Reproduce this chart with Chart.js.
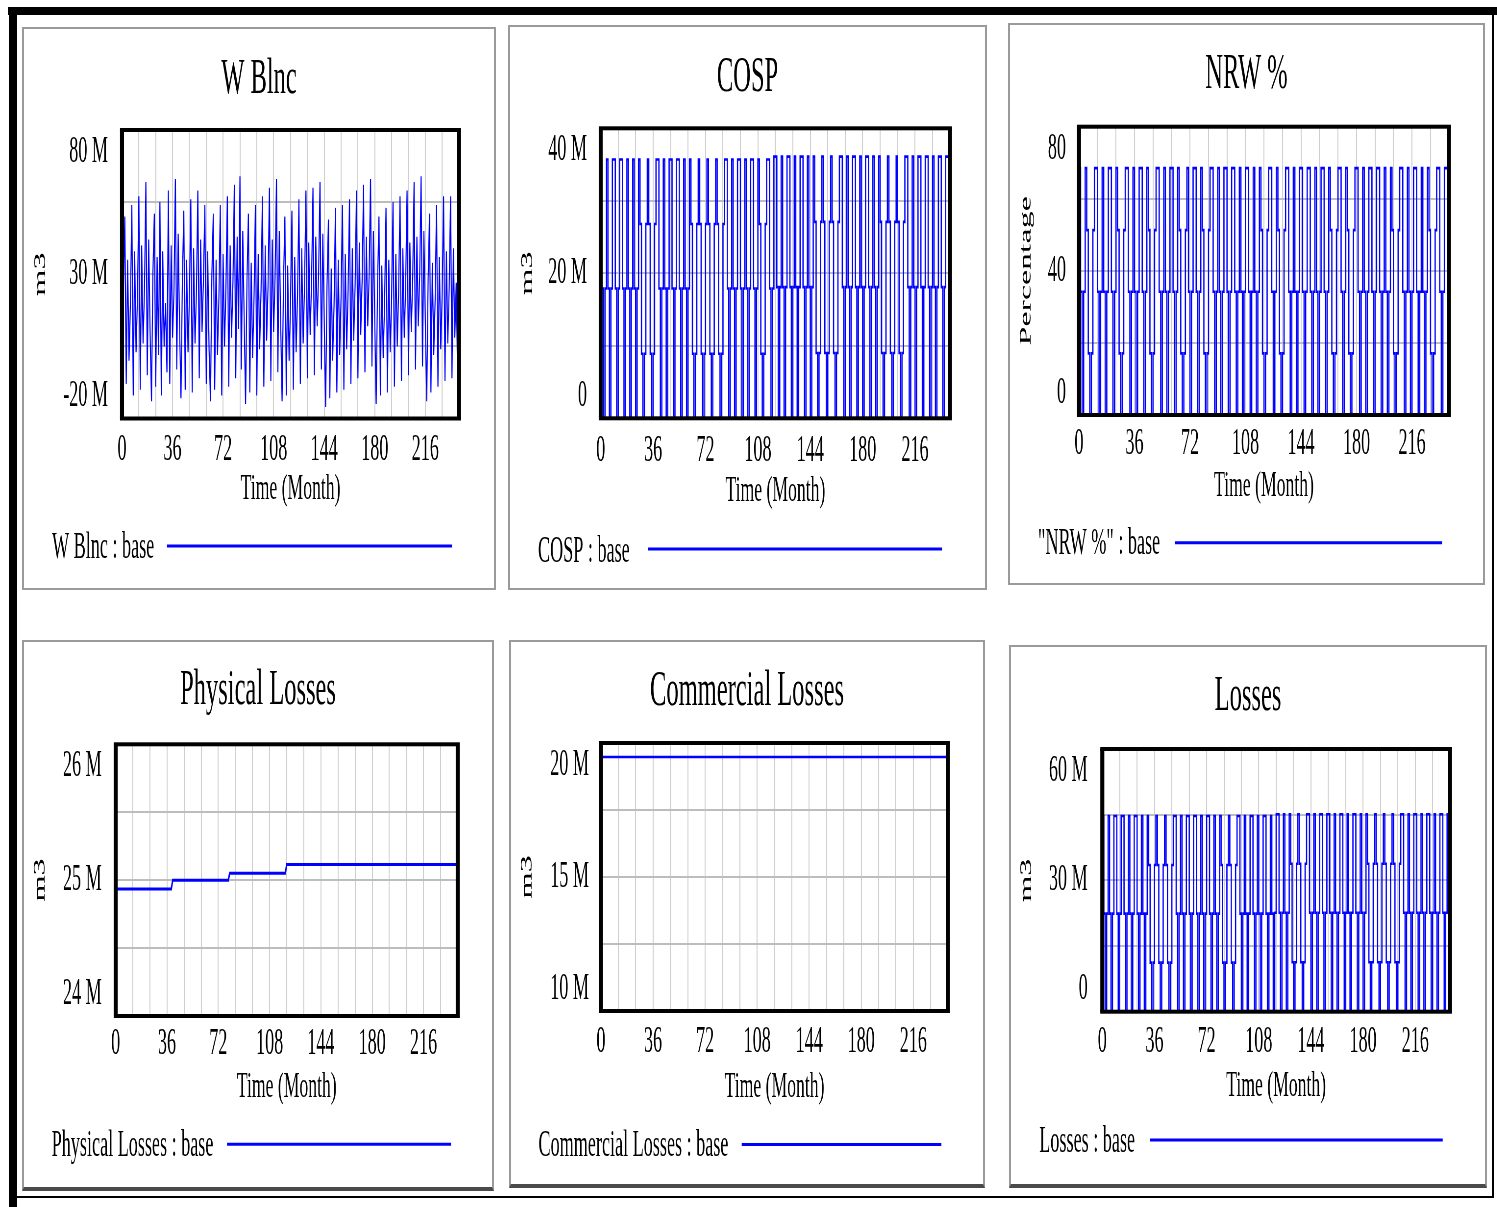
<!DOCTYPE html>
<html>
<head>
<meta charset="utf-8">
<title>Water balance – base run</title>
<script src="https://cdn.jsdelivr.net/npm/chart.js@4.4.1/dist/chart.umd.min.js"></script>
<style>
  html, body { margin: 0; padding: 0; background: #fff; }
  body { position: relative; width: 1497px; height: 1207px; overflow: hidden; }
  .bar { position: absolute; background: #000; }
  .panel { position: absolute; box-sizing: border-box; background: #fff; overflow: hidden;
           border: 2px solid #9a9a9a; }
  .panel.low { border-bottom: 4px solid #4a4a4a; }
  .panel canvas { position: absolute; left: 0; top: 0; transform-origin: 0 0; }
</style>
</head>
<body>
<div class="bar" style="left:8px;top:7px;width:1489px;height:8px"></div>
<div class="bar" style="left:9px;top:7px;width:8px;height:1200px"></div>
<div class="bar" style="left:9px;top:1196px;width:1485px;height:2px"></div>
<div class="bar" style="left:1492px;top:7px;width:2px;height:1191px"></div>

<div class="panel" id="p1"><canvas id="c1"></canvas></div>
<div class="panel" id="p2"><canvas id="c2"></canvas></div>
<div class="panel" id="p3"><canvas id="c3"></canvas></div>
<div class="panel low" id="p4"><canvas id="c4"></canvas></div>
<div class="panel low" id="p5"><canvas id="c5"></canvas></div>
<div class="panel low" id="p6"><canvas id="c6"></canvas></div>

<script>
// ---------- time axis ----------
const months = Array.from({ length: 241 }, (_, i) => i);   // simulation months 0..240
const xGridMonths = [0, 12, 24, 36, 48, 60, 72, 84, 96, 108, 120, 132, 144, 156, 168, 180, 192, 204, 216, 228, 240];
const xTickLabels = [0, 36, 72, 108, 144, 180, 216];

// ---------- series (millions of m3, NRW in %) ----------
const wBlnc = [
 -15, 25, 50, -8, 35, 0, 20, 54, -12, 38, 3, 22, 57, -10, 40, 6, 25, 62, -5, 42,
 10, -14, 30, 51, -9, 36, 2, 55, -12, 38, 5, 20, -4, 59, -8, 40, 8, 24, 63, -3,
 44, 12, -13, 28, 52, -10, 35, 3, 22, 56, -11, 39, 6, 24, 59, -6, 42, 10, 28, 54,
 -8, 38, 4, -14, 30, 51, -10, 35, 2, 22, 54, -12, 37, 5, 25, 57, -9, 40, 8, 27,
 61, -6, 43, 11, 64, -3, 45, 14, -15, 28, 51, -11, 34, 1, 21, 54, -12, 37, 4, 24,
 57, -9, 40, 7, 26, 60, -7, 42, 10, 29, 63, -4, 45, 13, -14, 27, 50, -12, 33, 0,
 20, 52, -10, 36, 3, 23, 56, -8, 39, 6, 26, 59, -6, 41, 9, 28, 60, -5, 43, 12,
 30, 62, -3, 44, 14, -16, 26, 49, -13, 32, 0, 19, 53, -11, 35, 2, 22, 54, -10, 37,
 4, 24, 56, -8, 39, 7, 26, 59, -6, 41, 9, 28, 61, -4, 43, 12, 30, 63, -2, 45,
 14, -15, 27, 50, -12, 33, 1, 20, 53, -11, 35, 3, 22, 55, -9, 37, 5, 24, 57, -7,
 39, 8, 26, 59, -5, 41, 10, 28, 62, -3, 43, 12, 30, 64, -2, 45, 14, -14, 28, 51,
 -11, 34, 2, 21, 54, -9, 36, 4, 23, 57, -7, 38, 6, 25, 57, -6, 39, 8, 27, -5,
 58
];

const cosp = [
 35.7, 35.7, 17.9, 0, 17.9,  35.7, 17.9, 0, 17.9,  35.7, 35.7, 17.9, 0, 17.9,          // 0-13
 35.7, 35.7, 17.9, 0, 17.9,  35.7, 17.9, 0, 17.9,  35.7, 17.9, 0, 17.9,                // 14-26
 35.7, 26.8, 8.9, 0, 8.9, 26.8,  35.7, 26.8, 8.9, 0, 8.9, 26.8,                        // 27-38
 35.7, 35.7, 17.9, 0, 17.9,  35.7, 17.9, 0, 17.9,  35.7, 35.7, 17.9, 0, 17.9,          // 39-52
 35.7, 35.7, 17.9, 0, 17.9,  35.7, 17.9, 0, 17.9,                                      // 53-61
 35.7, 26.8, 8.9, 0, 8.9, 26.8,  35.7, 26.8, 8.9, 0, 8.9, 26.8,                        // 62-73
 35.7, 26.8, 8.9, 0, 8.9, 26.8,  35.7, 26.8, 8.9, 0, 8.9, 26.8,                        // 74-85
 35.7, 35.7, 17.9, 0, 17.9,  35.7, 17.9, 0, 17.9,  35.7, 35.7, 17.9, 0, 17.9,          // 86-99
 35.7, 17.9, 0, 17.9,  35.7, 35.7, 17.9, 0, 17.9,                                      // 100-108
 35.7, 26.8, 8.9, 0, 8.9, 26.8,  35.7, 35.7, 17.9, 0, 17.9,                            // 109-119
 36.1, 36.1, 18.1, 0, 18.1,  36.1, 18.1, 0, 18.1,  36.1, 36.1, 18.1, 0, 18.1,          // 120-133
 36.1, 18.1, 0, 18.1,  36.1, 36.1, 18.1, 0, 18.1,  36.1, 18.1, 0, 18.1,                // 134-146
 36.1, 27.1, 9.0, 0, 9.0, 27.1,  36.1, 27.1, 9.0, 0, 9.0, 27.1,                        // 147-158
 36.1, 27.1, 9.0, 0, 9.0, 27.1,                                                        // 159-164
 36.1, 36.1, 18.1, 0, 18.1,  36.1, 18.1, 0, 18.1,  36.1, 36.1, 18.1, 0, 18.1,          // 165-178
 36.1, 18.1, 0, 18.1,  36.1, 36.1, 18.1, 0, 18.1,  36.1, 18.1, 0, 18.1,                // 179-191
 36.1, 27.1, 9.0, 0, 9.0, 27.1,  36.1, 27.1, 9.0, 0, 9.0, 27.1,                        // 192-203
 36.1, 27.1, 9.0, 0, 9.0, 27.1,                                                        // 204-209
 36.1, 36.1, 18.1, 0, 18.1,  36.1, 18.1, 0, 18.1,  36.1, 36.1, 18.1, 0, 18.1,          // 210-223
 36.1, 36.1, 18.1, 0, 18.1,  36.1, 18.1, 0, 18.1,  36.1, 36.1, 18.1, 0, 18.1,          // 224-237
 36.1, 36.1, 18.1                                                                      // 238-240
];

const nrwPct = [
 68.5, 68.5, 34.2, 0, 34.2,  68.5, 51.3, 17.1, 0, 17.1, 51.3,                          // 0-10
 68.5, 68.5, 34.2, 0, 34.2,  68.5, 34.2, 0, 34.2,  68.5, 68.5, 34.2, 0, 34.2,          // 11-24
 68.5, 51.3, 17.1, 0, 17.1, 51.3,  68.5, 68.5, 34.2, 0, 34.2,                          // 25-35
 68.5, 34.2, 0, 34.2,  68.5, 68.5, 34.2, 0, 34.2,                                      // 36-44
 68.5, 51.3, 17.1, 0, 17.1, 51.3,  68.5, 68.5, 34.2, 0, 34.2,                          // 45-55
 68.5, 34.2, 0, 34.2,  68.5, 68.5, 34.2, 0, 34.2,                                      // 56-64
 68.5, 51.3, 17.1, 0, 17.1, 51.3,  68.5, 34.2, 0, 34.2,  68.5, 68.5, 34.2, 0, 34.2,    // 65-79
 68.5, 51.3, 17.1, 0, 17.1, 51.3,  68.5, 68.5, 34.2, 0, 34.2,                          // 80-90
 68.5, 34.2, 0, 34.2,  68.5, 68.5, 34.2, 0, 34.2,  68.5, 68.5, 34.2, 0, 34.2,          // 91-104
 68.5, 34.2, 0, 34.2,  68.5, 68.5, 34.2, 0, 34.2,  68.5, 34.2, 0, 34.2,                // 105-117
 68.5, 51.3, 17.1, 0, 17.1, 51.3,  68.5, 68.5, 34.2, 0, 34.2,                          // 118-128
 68.5, 51.3, 17.1, 0, 17.1, 51.3,  68.5, 68.5, 34.2, 0, 34.2,                          // 129-139
 68.5, 34.2, 0, 34.2,  68.5, 68.5, 34.2, 0, 34.2,  68.5, 68.5, 34.2, 0, 34.2,          // 140-153
 68.5, 34.2, 0, 34.2,  68.5, 68.5, 34.2, 0, 34.2,                                      // 154-162
 68.5, 51.3, 17.1, 0, 17.1, 51.3,  68.5, 68.5, 34.2, 0, 34.2,                          // 163-173
 68.5, 51.3, 17.1, 0, 17.1, 51.3,  68.5, 68.5, 34.2, 0, 34.2,                          // 174-184
 68.5, 34.2, 0, 34.2,  68.5, 68.5, 34.2, 0, 34.2,  68.5, 68.5, 34.2, 0, 34.2,          // 185-198
 68.5, 34.2, 0, 34.2,  68.5, 51.3, 17.1, 0, 17.1, 51.3,                                // 199-208
 68.5, 68.5, 34.2, 0, 34.2,  68.5, 34.2, 0, 34.2,  68.5, 68.5, 34.2, 0, 34.2,          // 209-222
 68.5, 34.2, 0, 34.2,  68.5, 51.3, 17.1, 0, 17.1, 51.3,                                // 223-232
 68.5, 68.5, 34.2, 0, 34.2,  68.5, 68.5, 34.2                                          // 233-240
];

const losses = [
 44.7, 44.7, 22.4, 0, 22.4,  44.7, 22.4, 0, 22.4,  44.7, 44.7, 22.4, 0, 22.4,          // 0-13
 44.7, 44.7, 22.4, 0, 22.4,  44.7, 22.4, 0, 22.4,  44.7, 44.7, 22.4, 0, 22.4,          // 14-27
 44.7, 22.4, 0, 22.4,                                                                  // 28-31
 44.7, 33.5, 11.2, 0, 11.2, 33.5,  44.7, 33.5, 11.2, 0, 11.2, 33.5,                    // 32-43
 44.7, 33.5, 11.2, 0, 11.2, 33.5,                                                      // 44-49
 44.7, 44.7, 22.4, 0, 22.4,  44.7, 22.4, 0, 22.4,  44.7, 44.7, 22.4, 0, 22.4,          // 50-63
 44.7, 44.7, 22.4, 0, 22.4,  44.7, 22.4, 0, 22.4,  44.7, 44.7, 22.4, 0, 22.4,          // 64-77
 44.7, 22.4, 0, 22.4,                                                                  // 78-81
 44.7, 33.5, 11.2, 0, 11.2, 33.5,  44.7, 33.5, 11.2, 0, 11.2, 33.5,                    // 82-93
 44.7, 44.7, 22.4, 0, 22.4,  44.7, 22.4, 0, 22.4,  44.7, 44.7, 22.4, 0, 22.4,          // 94-107
 44.7, 22.4, 0, 22.4,  44.7, 44.7, 22.4, 0, 22.4,  44.7, 22.4, 0,                      // 108-119
 22.6,  45.1, 45.1, 22.6, 0, 22.6,  45.1, 22.6, 0, 22.6,                               // 120-129
 45.1, 33.8, 11.3, 0, 11.3, 33.8,  45.1, 33.8, 11.3, 0, 11.3, 33.8,                    // 130-141
 45.1, 45.1, 22.6, 0, 22.6,  45.1, 22.6, 0, 22.6,  45.1, 45.1, 22.6, 0, 22.6,          // 142-155
 45.1, 45.1, 22.6, 0, 22.6,  45.1, 22.6, 0, 22.6,  45.1, 45.1, 22.6, 0, 22.6,          // 156-169
 45.1, 22.6, 0, 22.6,  45.1, 45.1, 22.6, 0, 22.6,  45.1, 22.6, 0, 22.6,                // 170-182
 45.1, 33.8, 11.3, 0, 11.3, 33.8,  45.1, 33.8, 11.3, 0, 11.3, 33.8,                    // 183-194
 45.1, 33.8, 11.3, 0, 11.3, 33.8,  45.1, 33.8, 11.3, 0, 11.3, 33.8,                    // 195-206
 45.1, 45.1, 22.6, 0, 22.6,  45.1, 22.6, 0, 22.6,  45.1, 45.1, 22.6, 0, 22.6,          // 207-220
 45.1, 22.6, 0, 22.6,  45.1, 45.1, 22.6, 0, 22.6,  45.1, 22.6, 0, 22.6,                // 221-233
 45.1, 45.1, 22.6, 0, 22.6,  45.1, 22.6                                                // 234-240
];

const physicalMonths = [0, 39, 40, 79, 80, 119, 120, 240];
const physicalLosses = [24.935, 24.935, 25.0, 25.0, 25.05, 25.05, 25.115, 25.115];
const commercialMonths = [0, 240];
const commercialLosses = [19.48, 19.48];

// ---------- value-axis ticks (grid lines / labelled values) ----------
const wBlncGrid = [-20, 5, 30, 55, 80],   wBlncLabels = [-20, 30, 80];
const cospGrid = [0, 10, 20, 30, 40],     cospLabels = [0, 20, 40];
const nrwGrid = [0, 20, 40, 60, 80],      nrwLabels = [0, 40, 80];
const physGrid = [24, 24.5, 25, 25.5, 26], physLabels = [24, 25, 26];
const commGrid = [10, 12.5, 15, 17.5, 20], commLabels = [10, 15, 20];
const lossGrid = [0, 15, 30, 45, 60],     lossLabels = [0, 30, 60];

// ---------- drawing ----------
const FONT = "'Liberation Serif', 'Times New Roman', Times, serif";
const BLUE = '#0000ff';
const SQUEEZE = 0.49;          // narrow serif look: canvases are drawn wide and squeezed
const EDGE = 2;                // panel border width

// page-pixel geometry of each window; monthly pulse series are held month to month
const panels = [
  { id: 'p1', cv: 'c1', title: 'W Blnc', yTitle: 'm3', legend: 'W Blnc : base', stepped: false, lw: 2.2,
    xs: months, ys: wBlnc, grid: wBlncGrid, labels: wBlncLabels, unit: ' M',
    box: [22, 27, 496, 590], plot: [122, 130, 459, 418.5], titleBase: 97, tickRight: 108,
    yTitleX: 40.5, xTickBase: 463, xTitleBase: 501.5, legText: [52, 558], legLine: [167, 452, 546] },
  { id: 'p2', cv: 'c2', title: 'COSP', yTitle: 'm3', legend: 'COSP : base', stepped: 'after', lw: 2.6,
    xs: months, ys: cosp, grid: cospGrid, labels: cospLabels, unit: ' M',
    box: [508, 25, 987, 590], plot: [600.7, 128.3, 950, 418.3], titleBase: 95, tickRight: 587,
    yTitleX: 527.5, xTickBase: 463.5, xTitleBase: 504, legText: [538, 562], legLine: [648, 942, 549] },
  { id: 'p3', cv: 'c3', title: 'NRW %', yTitle: 'Percentage', legend: '"NRW %" : base', stepped: 'after', lw: 2.6,
    xs: months, ys: nrwPct, grid: nrwGrid, labels: nrwLabels, unit: '',
    box: [1008, 23, 1485, 585], plot: [1079, 126.7, 1449, 415], titleBase: 92, tickRight: 1066,
    yTitleX: 1026, xTickBase: 456.7, xTitleBase: 498.3, legText: [1038, 554], legLine: [1175, 1442, 542.7] },
  { id: 'p4', cv: 'c4', title: 'Physical Losses', yTitle: 'm3', legend: 'Physical Losses : base', stepped: false, lw: 3,
    xs: physicalMonths, ys: physicalLosses, grid: physGrid, labels: physLabels, unit: ' M',
    box: [22, 640, 494, 1191], plot: [115.7, 744.3, 457.7, 1016], titleBase: 708, tickRight: 101.7,
    yTitleX: 40, xTickBase: 1056.7, xTitleBase: 1100, legText: [51.7, 1156], legLine: [227, 451, 1144.3] },
  { id: 'p5', cv: 'c5', title: 'Commercial Losses', yTitle: 'm3', legend: 'Commercial Losses : base', stepped: false, lw: 2.6,
    xs: commercialMonths, ys: commercialLosses, grid: commGrid, labels: commLabels, unit: ' M',
    box: [509, 640, 985, 1188], plot: [601, 743, 948, 1011], titleBase: 709, tickRight: 589,
    yTitleX: 527, xTickBase: 1055, xTitleBase: 1100, legText: [538.5, 1156], legLine: [741.7, 941.4, 1144.6] },
  { id: 'p6', cv: 'c6', title: 'Losses', yTitle: 'm3', legend: 'Losses : base', stepped: 'after', lw: 2.6,
    xs: months, ys: losses, grid: lossGrid, labels: lossLabels, unit: ' M',
    box: [1009, 645, 1487, 1188], plot: [1102.3, 749, 1450, 1011.7], titleBase: 714, tickRight: 1087.7,
    yTitleX: 1026.7, xTickBase: 1055, xTitleBase: 1098.3, legText: [1039.3, 1151.7], legLine: [1150, 1442.7, 1140] }
];

const MID = 0.3375;   // canvas 'middle' baseline sits this many ems above the alphabetic baseline

// black frame around the plotting area
const plotFrame = {
  id: 'plotFrame',
  afterDatasetsDraw(chart, args, opts) {
    const { ctx, chartArea: a } = chart;
    const v = opts.v, h = opts.h;
    ctx.save();
    ctx.fillStyle = '#000';
    ctx.fillRect(a.left - v / 2, a.top - h / 2, a.right - a.left + v, h);
    ctx.fillRect(a.left - v / 2, a.bottom - h / 2, a.right - a.left + v, h);
    ctx.fillRect(a.left - v / 2, a.top, v, a.bottom - a.top);
    ctx.fillRect(a.right - v / 2, a.top, v, a.bottom - a.top);
    ctx.restore();
  }
};

// "name : base ——" key under the axis
const runKey = {
  id: 'runKey',
  afterDraw(chart, args, opts) {
    const ctx = chart.ctx;
    ctx.save();
    ctx.font = `37px ${FONT}`;
    ctx.fillStyle = '#000';
    ctx.textBaseline = 'alphabetic';
    ctx.textAlign = 'left';
    ctx.fillText(opts.text, opts.tx, opts.ty);
    ctx.strokeStyle = BLUE;
    ctx.lineWidth = 3;
    ctx.beginPath();
    ctx.moveTo(opts.x1, opts.ly);
    ctx.lineTo(opts.x2, opts.ly);
    ctx.stroke();
    ctx.restore();
  }
};

function fmt(v, unit) {
  return unit && v !== 0 ? `${v}${unit}` : `${v}`;
}

panels.forEach(p => {
  const el = document.getElementById(p.id);
  const [bx0, by0, bx1, by1] = p.box;
  el.style.left = bx0 + 'px';
  el.style.top = by0 + 'px';
  el.style.width = (bx1 - bx0) + 'px';
  el.style.height = (by1 - by0) + 'px';
  const bottomEdge = el.classList.contains('low') ? 4 : EDGE;
  const innerL = bx0 + EDGE, innerT = by0 + EDGE;
  const innerW = bx1 - bx0 - 2 * EDGE, innerH = by1 - by0 - EDGE - bottomEdge;
  const cw = Math.round(innerW / SQUEEZE), ch = Math.round(innerH);
  const s = innerW / cw;
  const X = ax => (ax - innerL) / s;
  const Y = ay => ay - innerT;

  const cv = document.getElementById(p.cv);
  cv.width = cw; cv.height = ch;
  cv.style.width = cw + 'px'; cv.style.height = ch + 'px';
  cv.style.transform = `scaleX(${s})`;

  const pl = X(p.plot[0]), pr = X(p.plot[2]), pt = Y(p.plot[1]), pb = Y(p.plot[3]);
  const titleMid = Y(p.titleBase) - MID * 50;
  const xTickMid = Y(p.xTickBase) - MID * 37;
  const xTitleMid = Y(p.xTitleBase) - MID * 36;
  const xAxisH = xTitleMid + 18 - pb;
  const lo = p.grid[0], hi = p.grid[p.grid.length - 1];

  new Chart(cv, {
    type: 'line',
    data: {
      labels: p.xs,
      datasets: [{
        label: p.legend,
        data: p.ys,
        borderColor: BLUE,
        borderWidth: p.lw,
        stepped: p.stepped,
        pointRadius: 0,
        tension: 0,
        fill: false
      }]
    },
    options: {
      responsive: false,
      animation: false,
      devicePixelRatio: 1,
      events: [],
      layout: { padding: { left: 0, top: 0, right: 0, bottom: ch - pb - xAxisH } },
      plugins: {
        legend: { display: false },
        tooltip: { enabled: false },
        title: {
          display: true, text: p.title, color: '#000',
          font: { family: FONT, size: 50, weight: 'normal', lineHeight: 1 },
          padding: { top: titleMid - 25, bottom: pt - titleMid - 25 }
        },
        plotFrame: { v: 4 / s, h: 4 },
        runKey: { text: p.legend, tx: X(p.legText[0]), ty: Y(p.legText[1]),
                  x1: X(p.legLine[0]), x2: X(p.legLine[1]), ly: Y(p.legLine[2]) }
      },
      scales: {
        x: {
          type: 'linear', min: 0, max: 240, position: 'bottom',
          afterBuildTicks: sc => { sc.ticks = xGridMonths.map(v => ({ value: v })); },
          afterFit: sc => { sc.height = xAxisH; },
          grid: { color: '#cfcfcf', lineWidth: 2, drawTicks: false },
          border: { display: false },
          ticks: {
            autoSkip: false, maxRotation: 0, minRotation: 0, color: '#000',
            padding: xTickMid - pb - 18.5,
            font: { family: FONT, size: 37, weight: 'normal', lineHeight: 1 },
            callback: v => (xTickLabels.includes(v) ? String(v) : '')
          },
          title: { display: true, text: 'Time (Month)', color: '#000',
                   font: { family: FONT, size: 36, weight: 'normal', lineHeight: 1 },
                   padding: { top: 0, bottom: 0 } }
        },
        y: {
          type: 'linear', min: lo, max: hi, position: 'left',
          afterBuildTicks: sc => { sc.ticks = p.grid.map(v => ({ value: v })); },
          afterFit: sc => { sc.width = pl; },
          grid: { color: '#bdbdbd', lineWidth: 2, drawTicks: false },
          border: { display: false },
          ticks: {
            autoSkip: false, color: '#000',
            padding: pl - X(p.tickRight),
            font: { family: FONT, size: 37, weight: 'normal', lineHeight: 1.2 },
            callback: v => {
              if (!p.labels.includes(v)) return '';
              const t = fmt(v, p.unit);
              if (v === hi) return ['', t];
              if (v === lo) return [t, ''];
              return t;
            }
          },
          title: { display: true, text: p.yTitle, color: '#000',
                   font: { family: FONT, size: 34, weight: 'normal', lineHeight: 1 },
                   padding: { top: X(p.yTitleX) - 17, bottom: 0 } }
        },
        yRight: {
          type: 'linear', position: 'right', display: true,
          afterFit: sc => { sc.width = cw - pr; },
          grid: { display: false, drawTicks: false },
          border: { display: false },
          ticks: { display: false }
        }
      }
    },
    plugins: [plotFrame, runKey]
  });
});
</script>
</body>
</html>
